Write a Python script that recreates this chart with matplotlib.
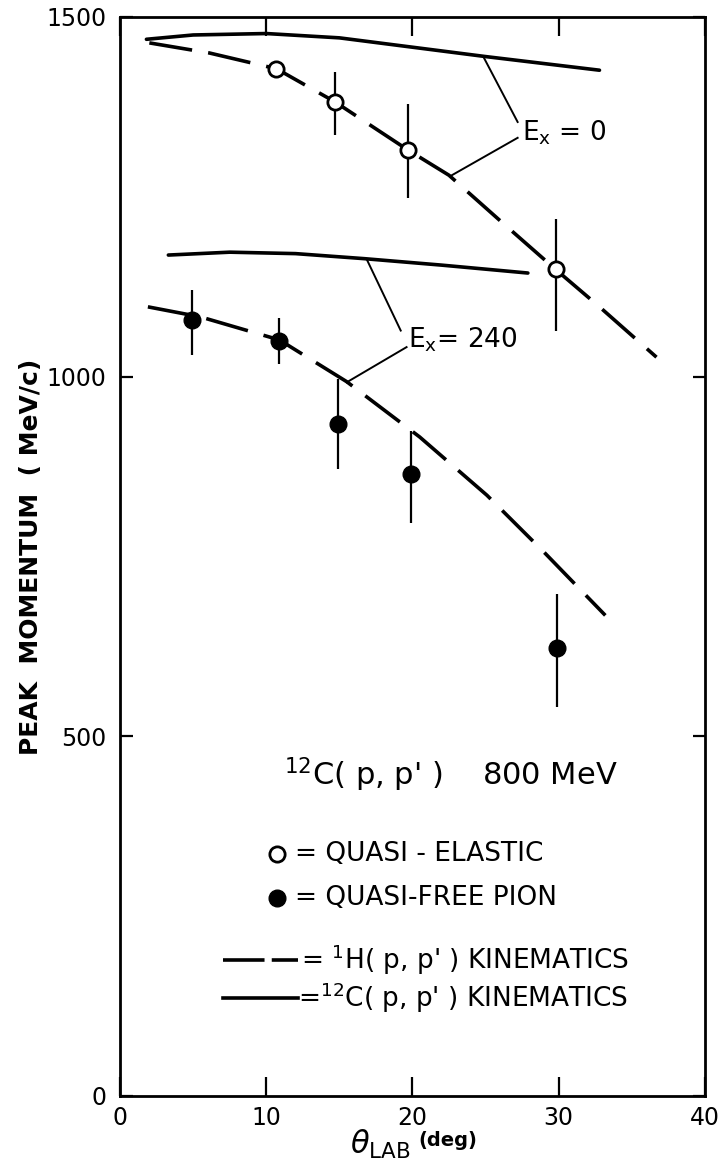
import matplotlib
matplotlib.use("Agg")
import matplotlib.pyplot as plt

# data (theta_lab in deg, momentum in MeV/c)
qe_theta = [10.7, 14.7, 19.7, 29.8]
qe_p = [1427, 1382, 1315, 1149]
qe_err_lo = [0, 46, 67, 85]
qe_err_hi = [0, 42, 64, 70]

pion_theta = [4.9, 10.9, 14.9, 19.9, 29.9]
pion_p = [1079, 1049, 934, 864, 623]
pion_err_lo = [49, 32, 63, 67, 82]
pion_err_hi = [42, 32, 63, 61, 75]

# 12C(p,p') kinematics (solid)
c12_ex0_theta = [1.8, 5, 10, 15, 20, 25, 32.8]
c12_ex0_p = [1469, 1475, 1477, 1471, 1458, 1445, 1426]
c12_ex240_theta = [3.3, 7.5, 12, 16.7, 22, 27.9]
c12_ex240_p = [1169, 1173, 1171, 1164, 1155, 1144]

# 1H(p,p') kinematics (dashed)
h1_ex0_theta = [2.0, 6.1, 10.7, 14.7, 19.7, 22.5, 26.1, 29.8, 32.8, 36.7]
h1_ex0_p = [1464, 1450, 1428, 1382, 1315, 1280, 1215, 1149, 1097, 1027]
h1_ex240_theta = [1.9, 5.5, 10.9, 15.5, 20.5, 25.1, 29.0, 33.2]
h1_ex240_p = [1097, 1083, 1051, 993, 916, 835, 756, 668]

plt.rcParams['font.family'] = ['DejaVu Sans']

fig = plt.figure(figsize=(7.28, 11.72), dpi=100)
ax = fig.add_axes([0.165, 0.065, 0.803, 0.9205])

lw = 2.6
ax.plot(c12_ex0_theta, c12_ex0_p, color='black', lw=lw, solid_capstyle='round')
ax.plot(c12_ex240_theta, c12_ex240_p, color='black', lw=lw, solid_capstyle='round')
ax.plot(h1_ex0_theta, h1_ex0_p, color='black', lw=lw, dashes=(12, 4.5))
ax.plot(h1_ex240_theta, h1_ex240_p, color='black', lw=lw, dashes=(12, 4.5))

ax.errorbar(qe_theta, qe_p, yerr=[qe_err_lo, qe_err_hi], fmt='o', ms=11,
            mfc='white', mec='black', mew=2, ecolor='black', elinewidth=1.6,
            capsize=0, zorder=5)
ax.errorbar(pion_theta, pion_p, yerr=[pion_err_lo, pion_err_hi], fmt='o', ms=12,
            mfc='black', mec='black', ecolor='black', elinewidth=1.6,
            capsize=0, zorder=5)

# leader lines to the E_x labels
ax.plot([27.2, 24.9], [1354, 1443], color='black', lw=1.4)
ax.plot([27.2, 22.7], [1332, 1280], color='black', lw=1.4)
ax.plot([19.2, 16.9], [1064, 1162], color='black', lw=1.4)
ax.plot([19.6, 15.5], [1041, 992], color='black', lw=1.4)
ax.text(27.5, 1339, r'$\mathregular{E_x}$ = 0', fontsize=19, va='center')
ax.text(19.7, 1051, r'$\mathregular{E_x}$= 240', fontsize=19, va='center')

ax.set_xlim(0, 40)
ax.set_ylim(0, 1500)
ax.set_xticks([0, 10, 20, 30, 40])
ax.set_yticks([0, 500, 1000, 1500])
ax.tick_params(axis='both', direction='in', top=True, right=True,
               labelsize=17, width=1.6, colors='black')
ax.tick_params(axis='x', length=14, pad=7)
ax.tick_params(axis='y', length=9, pad=10)
for s in ax.spines.values():
    s.set_linewidth(2)

ax.set_ylabel('PEAK  MOMENTUM  ( MeV/c)', fontsize=18, fontweight='bold', labelpad=2)
ax.set_xlabel(r'$\theta_{\mathregular{LAB}}$', fontsize=22)
ax.xaxis.set_label_coords(0.445, -0.03, transform=ax.transAxes)
ax.xaxis.label.set_va('top')
ax.text(0.51, -0.041, '(deg)', transform=ax.transAxes, fontsize=14,
        fontweight='bold', va='center', ha='left')

# caption block inside the axes
ax.text(0.28, 0.298, r"$\mathregular{^{12}}$C( p, p' )    800 MeV",
        transform=ax.transAxes, fontsize=22, va='center')
ax.plot([0.268], [0.224], 'o', ms=11, mfc='white', mec='black', mew=2,
        transform=ax.transAxes, clip_on=False)
ax.text(0.3, 0.224, '= QUASI - ELASTIC', transform=ax.transAxes, fontsize=19, va='center')
ax.plot([0.268], [0.183], 'o', ms=12, mfc='black', mec='black',
        transform=ax.transAxes, clip_on=False)
ax.text(0.3, 0.183, '= QUASI-FREE PION', transform=ax.transAxes, fontsize=19, va='center')
ax.plot([0.176, 0.305], [0.126, 0.126], color='black', lw=lw, dashes=(11.5, 2),
        transform=ax.transAxes)
ax.text(0.31, 0.126, r"= $\mathregular{^1}$H( p, p' ) KINEMATICS",
        transform=ax.transAxes, fontsize=19, va='center')
ax.plot([0.176, 0.305], [0.091, 0.091], color='black', lw=lw, transform=ax.transAxes)
ax.text(0.305, 0.091, r"=$\mathregular{^{12}}$C( p, p' ) KINEMATICS",
        transform=ax.transAxes, fontsize=19, va='center')

fig.savefig('out.png', dpi=100, facecolor='white')
